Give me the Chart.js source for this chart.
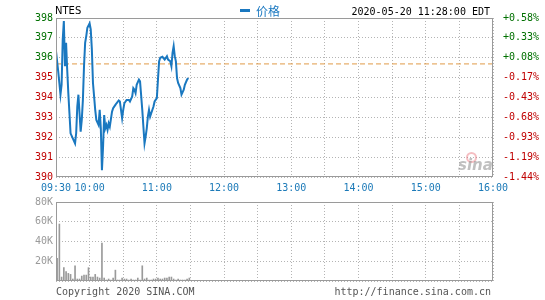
<!DOCTYPE html>
<html>
<head>
<meta charset="utf-8">
<script src="https://cdn.jsdelivr.net/npm/chart.js@4"></script>
<style>
body { margin: 0; background: #fff; width: 545px; height: 300px; position: relative; overflow: hidden; font-family: "DejaVu Sans Mono", monospace; font-size: 10px; }
canvas { position: absolute; left: 0; }
.t { position: absolute; white-space: nowrap; line-height: 12px; }
</style>
</head>
<body>
<canvas id="priceChart" width="545" height="200" style="top:0"></canvas>
<canvas id="volumeChart" width="545" height="100" style="top:190px"></canvas>

<div class="t" style="left:55px;top:5px;font-family:'DejaVu Sans';font-size:10px;color:#000">NTES</div>
<div class="t" style="left:240px;top:9px;width:10px;height:3px;background:#1a78c0"></div>
<div class="t" style="left:256px;top:4px;font-family:'Noto Sans CJK SC';font-size:12px;line-height:14px;color:#1a78c0">价格</div>
<div class="t" style="right:55px;top:6px;color:#000">2020-05-20 11:28:00 EDT</div>
<div class="t" style="left:466px;top:152px;width:7px;height:7px;border:2px solid rgba(232,110,120,0.45);border-radius:50%"></div>
<div class="t" style="left:458px;top:156px;font-family:'DejaVu Sans';font-style:italic;font-weight:bold;font-size:15px;line-height:18px;color:rgba(150,150,150,0.6)">sina</div>
<div class="t" style="left:56px;top:286px;color:#555">Copyright 2020 SINA.COM</div>
<div class="t" style="right:54px;top:286px;color:#555">http://finance.sina.com.cn</div>

<script>
// minutes since 09:30 and price
const priceMinutes = [0, 2, 3, 4, 5, 6, 7, 8, 9, 10, 11, 12, 13, 15, 17, 18, 19, 20, 21, 22, 23, 24, 25, 26, 27, 28, 30, 31, 32, 33, 35, 36, 38, 39, 40, 41, 42, 43, 44, 45, 46, 47, 48, 50, 51, 53, 54, 56, 57, 59, 60, 61, 63, 65, 66, 68, 69, 70, 71, 72, 74, 75, 77, 78, 79, 80, 81, 82, 83, 84, 85, 87, 88, 90, 91, 92, 93, 95, 97, 99, 100, 102, 103, 104, 105, 106, 107, 108, 109, 111, 112, 114, 115, 117, 118];
const priceValues = [396.33, 395.30, 394.73, 394.14, 394.64, 396.92, 397.85, 395.57, 396.75, 395.40, 394.22, 393.21, 392.20, 391.94, 391.69, 392.20, 393.55, 394.14, 393.21, 392.28, 392.87, 393.88, 395.57, 396.75, 397.09, 397.51, 397.73, 397.43, 396.42, 394.73, 393.38, 392.87, 392.62, 393.38, 392.45, 390.34, 391.52, 393.12, 392.45, 392.62, 392.37, 392.70, 392.53, 393.29, 393.46, 393.63, 393.71, 393.85, 393.80, 392.96, 393.38, 393.71, 393.88, 393.88, 393.80, 394.05, 394.47, 394.39, 394.22, 394.64, 394.90, 394.81, 393.38, 392.53, 391.69, 392.03, 392.45, 393.04, 393.38, 393.04, 393.21, 393.55, 393.80, 393.97, 394.90, 395.82, 396.00, 396.05, 395.91, 396.08, 395.91, 395.82, 395.57, 396.25, 396.58, 396.08, 395.82, 394.98, 394.73, 394.47, 394.14, 394.39, 394.64, 394.90, 394.98];
const prevClose = 395.69;

// volume, one bar every two minutes
const volumeMinutes = [1, 3, 5, 7, 9, 11, 13, 15, 17, 19, 21, 23, 25, 27, 29, 31, 33, 35, 37, 39, 41, 43, 45, 47, 49, 51, 53, 55, 57, 59, 61, 63, 65, 67, 69, 71, 73, 75, 77, 79, 81, 83, 85, 87, 89, 91, 93, 95, 97, 99, 101, 103, 105, 107, 109, 111, 113, 115, 117, 119];
const volumeValues = [23000, 57700, 4000, 13500, 9600, 7700, 6700, 2000, 15400, 2000, 2000, 5000, 6000, 6000, 13500, 4000, 4000, 6700, 4000, 3000, 38500, 3000, 1000, 2000, 1000, 3000, 11000, 1000, 1000, 3000, 2000, 2000, 1000, 2000, 1000, 1000, 3000, 1000, 15400, 2000, 3000, 1000, 1000, 2000, 2000, 3000, 2000, 2000, 3000, 3000, 4000, 4000, 2000, 1000, 2000, 1000, 1000, 1000, 2000, 3000];

// tick labels
const timeTickLabels = ['09:30', '10:00', '', '11:00', '', '12:00', '', '13:00', '', '14:00', '', '15:00', '', '16:00'];
const pctTickLabels = ['-1.44%', '-1.19%', '-0.93%', '-0.68%', '-0.43%', '-0.17%', '+0.08%', '+0.33%', '+0.58%'];
const volumeTickLabels = ['', '20K', '40K', '60K', '80K'];

const monoFont = { family: 'DejaVu Sans Mono', size: 10 };
const upColor = '#007000';
const downColor = '#c00000';
const gridStyle = { color: '#b4b4b4', lineWidth: 1, drawTicks: false };
const gridBorder = { display: false, dash: [1, 2] };

const framePlugin = {
    id: 'frame',
    afterDraw(chart) {
        const a = chart.chartArea;
        const c = chart.ctx;
        c.save();
        c.strokeStyle = '#9a9a9a';
        c.lineWidth = 1;
        c.strokeRect(Math.round(a.left) + 0.5, Math.round(a.top) + 0.5, Math.round(a.right - a.left) - 1, Math.round(a.bottom - a.top) - 1);
        c.restore();
    }
};

const priceChart = new Chart(document.getElementById('priceChart'), {
    type: 'line',
    data: {
        datasets: [{
            label: '价格',
            data: priceMinutes.map((m, i) => ({ x: m, y: priceValues[i] })),
            borderColor: '#1a78c0',
            borderWidth: 2,
            pointRadius: 0,
            tension: 0,
        }, {
            label: 'prev',
            data: [{ x: 0, y: prevClose }, { x: 390, y: prevClose }],
            borderColor: '#e09a48',
            borderWidth: 1,
            borderDash: [5, 3],
            pointRadius: 0,
        }]
    },
    options: {
        responsive: false,
        animation: false,
        layout: { padding: { top: 18, left: 0, right: 0, bottom: 0 } },
        plugins: { legend: { display: false }, tooltip: { enabled: false } },
        scales: {
            x: {
                type: 'linear',
                min: 0,
                max: 390,
                grid: gridStyle,
                border: gridBorder,
                ticks: {
                    stepSize: 30,
                    autoSkip: false,
                    maxRotation: 0,
                    padding: 5,
                    color: '#1c7ab8',
                    font: monoFont,
                    callback: (v, i) => timeTickLabels[i],
                },
                afterFit: s => { s.height = 23; }
            },
            y: {
                min: 390,
                max: 398,
                grid: gridStyle,
                border: gridBorder,
                ticks: {
                    stepSize: 1,
                    padding: 3,
                    font: monoFont,
                    color: c => c.tick.value > prevClose ? upColor : downColor,
                    callback: v => v,
                },
                afterFit: s => { s.width = 56; }
            },
            y1: {
                position: 'right',
                min: 390,
                max: 398,
                grid: { display: false },
                border: { display: false },
                ticks: {
                    stepSize: 1,
                    padding: 2,
                    font: monoFont,
                    color: c => c.tick.value > prevClose ? upColor : downColor,
                    callback: (v, i) => pctTickLabels[i],
                },
                afterFit: s => { s.width = 52; }
            }
        }
    },
    plugins: [framePlugin]
});

const volumeChart = new Chart(document.getElementById('volumeChart'), {
    type: 'bar',
    data: {
        datasets: [{
            label: 'volume',
            data: volumeMinutes.map((m, i) => ({ x: m, y: volumeValues[i] })),
            backgroundColor: '#9a9a9a',
            barThickness: 1,
        }]
    },
    options: {
        responsive: false,
        animation: false,
        layout: { padding: { top: 12, left: 0, right: 52, bottom: 5 } },
        plugins: { legend: { display: false }, tooltip: { enabled: false } },
        scales: {
            x: {
                type: 'linear',
                min: 0,
                max: 390,
                offset: false,
                grid: { ...gridStyle, offset: false },
                border: gridBorder,
                ticks: { stepSize: 30, display: false },
                afterFit: s => { s.height = 0; }
            },
            y: {
                min: 0,
                max: 80000,
                grid: gridStyle,
                border: gridBorder,
                ticks: {
                    stepSize: 20000,
                    padding: 3,
                    font: monoFont,
                    color: '#9a9a9a',
                    callback: (v, i) => volumeTickLabels[i],
                },
                afterFit: s => { s.width = 56; }
            }
        }
    },
    plugins: [framePlugin]
});
</script>
</body>
</html>
